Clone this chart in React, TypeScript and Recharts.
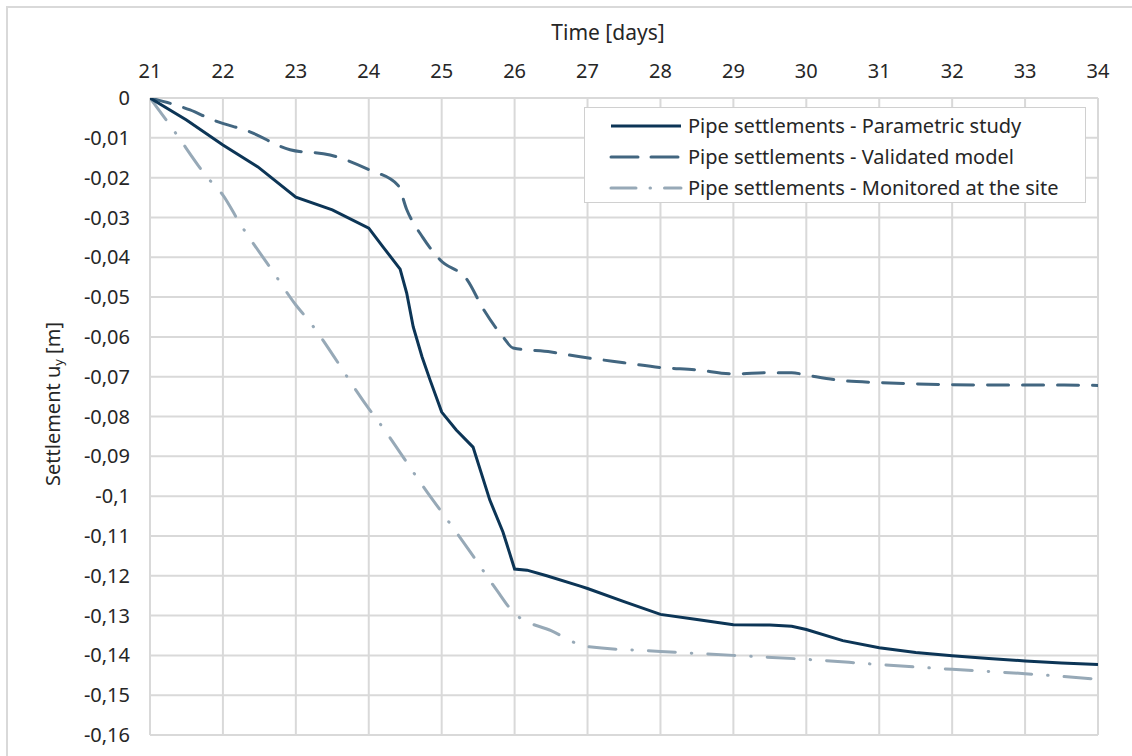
import React from 'react';
import { LineChart, Line, XAxis, YAxis, CartesianGrid } from 'recharts';

const xTicks = [21, 22, 23, 24, 25, 26, 27, 28, 29, 30, 31, 32, 33, 34];
const yTicks = [0, -0.01, -0.02, -0.03, -0.04, -0.05, -0.06, -0.07, -0.08, -0.09, -0.1, -0.11, -0.12, -0.13, -0.14, -0.15, -0.16];

const parametricT = [21, 21.5, 22, 22.48, 23, 23.5, 24, 24.2, 24.43, 24.52, 24.61, 24.73, 24.84, 25, 25.2, 25.43, 25.66, 25.84, 26, 26.17, 26.44, 26.9, 27, 27.5, 28, 28.5, 29, 29.5, 29.8, 30, 30.5, 31, 31.5, 32, 32.5, 33, 33.5, 34];
const parametricV = [0, -0.0055, -0.0118, -0.0173, -0.0249, -0.0281, -0.0327, -0.0375, -0.043, -0.049, -0.0575, -0.065, -0.0708, -0.0789, -0.0834, -0.0877, -0.101, -0.109, -0.1183, -0.1186, -0.12, -0.1226, -0.1232, -0.1265, -0.1297, -0.131, -0.1323, -0.1324, -0.1327, -0.1335, -0.1363, -0.1381, -0.1393, -0.1401, -0.1408, -0.1414, -0.1419, -0.1423];

const validatedT = [21, 21.55, 21.86, 22.37, 22.92, 23.47, 24, 24.4, 24.52, 24.74, 24.98, 25.35, 25.57, 25.84, 25.98, 26.5, 26.9, 27.5, 28, 28.5, 29, 29.5, 29.8, 30, 30.5, 31, 31.5, 32, 32.5, 33, 33.5, 34];
const validatedV = [0, -0.003, -0.0055, -0.0085, -0.013, -0.0143, -0.018, -0.0219, -0.028, -0.035, -0.0407, -0.0457, -0.053, -0.06, -0.0628, -0.0638, -0.065, -0.0665, -0.0677, -0.0683, -0.0693, -0.069, -0.069, -0.0696, -0.071, -0.0715, -0.0718, -0.072, -0.0721, -0.0721, -0.0721, -0.0722];

const monitoredT = [21, 21.32, 21.78, 22, 22.23, 22.69, 23, 23.15, 24, 24.15, 24.84, 25, 25.43, 25.75, 26, 26.5, 27, 28, 29, 30, 31, 32, 33, 34];
const monitoredV = [0, -0.008, -0.0198, -0.0244, -0.0314, -0.0437, -0.052, -0.0553, -0.078, -0.0817, -0.1, -0.104, -0.115, -0.1235, -0.1295, -0.1338, -0.1378, -0.139, -0.14, -0.141, -0.1423, -0.1435, -0.1446, -0.146];

const seriesNames = [
  'Pipe settlements - Parametric study',
  'Pipe settlements - Validated model',
  'Pipe settlements - Monitored at the site',
];

const toRows = (ts: number[], vs: number[]) => ts.map((t, i) => ({ t, v: vs[i] }));
const parametricData = toRows(parametricT, parametricV);
const validatedData = toRows(validatedT, validatedV);
const monitoredData = toRows(monitoredT, monitoredV);

const COLORS = ['#0c3556', '#426680', '#97a9b7'];
const DASHES = [undefined, '21 14', '27 16 0.5 16'];
const FONT = '"Noto Sans", Arial, sans-serif';
const TXT = '#262626';

const fmtY = (v: number) => {
  const r = Number(v.toFixed(2));
  return r === 0 ? '0' : String(r).replace('.', ',');
};

const LegendBox = () => (
  <div
    style={{
      position: 'absolute',
      left: 584,
      top: 107,
      border: '1.5px solid #d0d0d0',
      background: '#fff',
      width: 502,
      height: 96,
      boxSizing: 'border-box',
      paddingTop: 2,
      fontFamily: FONT,
      fontSize: 20,
      color: TXT,
    }}
  >
    {seriesNames.map((n, i) => (
      <div key={n} style={{ display: 'flex', alignItems: 'center', height: 31 }}>
        <svg width={103} height={10} style={{ flex: 'none' }}>
          <line
            x1={26}
            y1={5}
            x2={96}
            y2={5}
            stroke={COLORS[i]}
            strokeWidth={3}
            strokeDasharray={i === 1 ? '27 13' : i === 2 ? '25 14 0.5 14' : undefined}
            strokeLinecap={i === 0 ? 'butt' : 'round'}
          />
        </svg>
        <span style={{ whiteSpace: 'nowrap' }}>{n}</span>
      </div>
    ))}
  </div>
);

export default function App() {
  return (
    <div style={{ position: 'absolute', left: 0, top: 0, width: 1132, height: 756, background: '#fff', overflow: 'hidden' }}>
      <div style={{ position: 'absolute', left: 6, top: 6, width: 1140, height: 760, borderLeft: '2px solid #d9d9d9', borderTop: '2px solid #d9d9d9', boxSizing: 'border-box' }} />
      <LineChart
        width={1132}
        height={756}
        margin={{ top: 58, left: 90, right: 34, bottom: 21 }}
        style={{ position: 'absolute', left: 0, top: 0, fontFamily: FONT }}
      >
        <CartesianGrid stroke="#d9d9d9" strokeWidth={2} />
        <XAxis
          type="number"
          dataKey="t"
          orientation="top"
          domain={[21, 34]}
          ticks={xTicks}
          interval={0}
          height={40}
          axisLine={false}
          tickLine={false}
          tickSize={0}
          tickMargin={20}
          tick={{ fill: TXT, fontSize: 20, fontFamily: FONT }}
          allowDataOverflow
        />
        <YAxis
          type="number"
          dataKey="v"
          domain={[-0.16, 0]}
          ticks={yTicks}
          interval={0}
          width={60}
          axisLine={false}
          tickLine={false}
          tickSize={0}
          tickMargin={20}
          tickFormatter={fmtY}
          tick={{ fill: TXT, fontSize: 20, fontFamily: FONT }}
          allowDataOverflow
        />
        <Line data={monitoredData} dataKey="v" name={seriesNames[2]} type="monotone" stroke={COLORS[2]} strokeWidth={3} strokeDasharray={DASHES[2]} strokeLinecap="round" dot={false} isAnimationActive={false} />
        <Line data={validatedData} dataKey="v" name={seriesNames[1]} type="monotone" stroke={COLORS[1]} strokeWidth={3} strokeDasharray={DASHES[1]} strokeLinecap="round" dot={false} isAnimationActive={false} />
        <Line data={parametricData} dataKey="v" name={seriesNames[0]} type="linear" stroke={COLORS[0]} strokeWidth={3} dot={false} isAnimationActive={false} />
      </LineChart>
      <LegendBox />
      <div style={{ position: 'absolute', left: 0, top: 18, width: 1216, textAlign: 'center', fontFamily: FONT, fontSize: 21, color: TXT, lineHeight: '28px' }}>
        Time [days]
      </div>
      <div
        style={{
          position: 'absolute',
          left: 55,
          top: 404,
          transform: 'translate(-50%, -50%) rotate(-90deg)',
          whiteSpace: 'nowrap',
          fontFamily: FONT,
          fontSize: 20,
          color: TXT,
          lineHeight: '26px',
        }}
      >
        Settlement u<sub style={{ fontSize: 13, verticalAlign: -3 }}>y</sub> [m]
      </div>
    </div>
  );
}
